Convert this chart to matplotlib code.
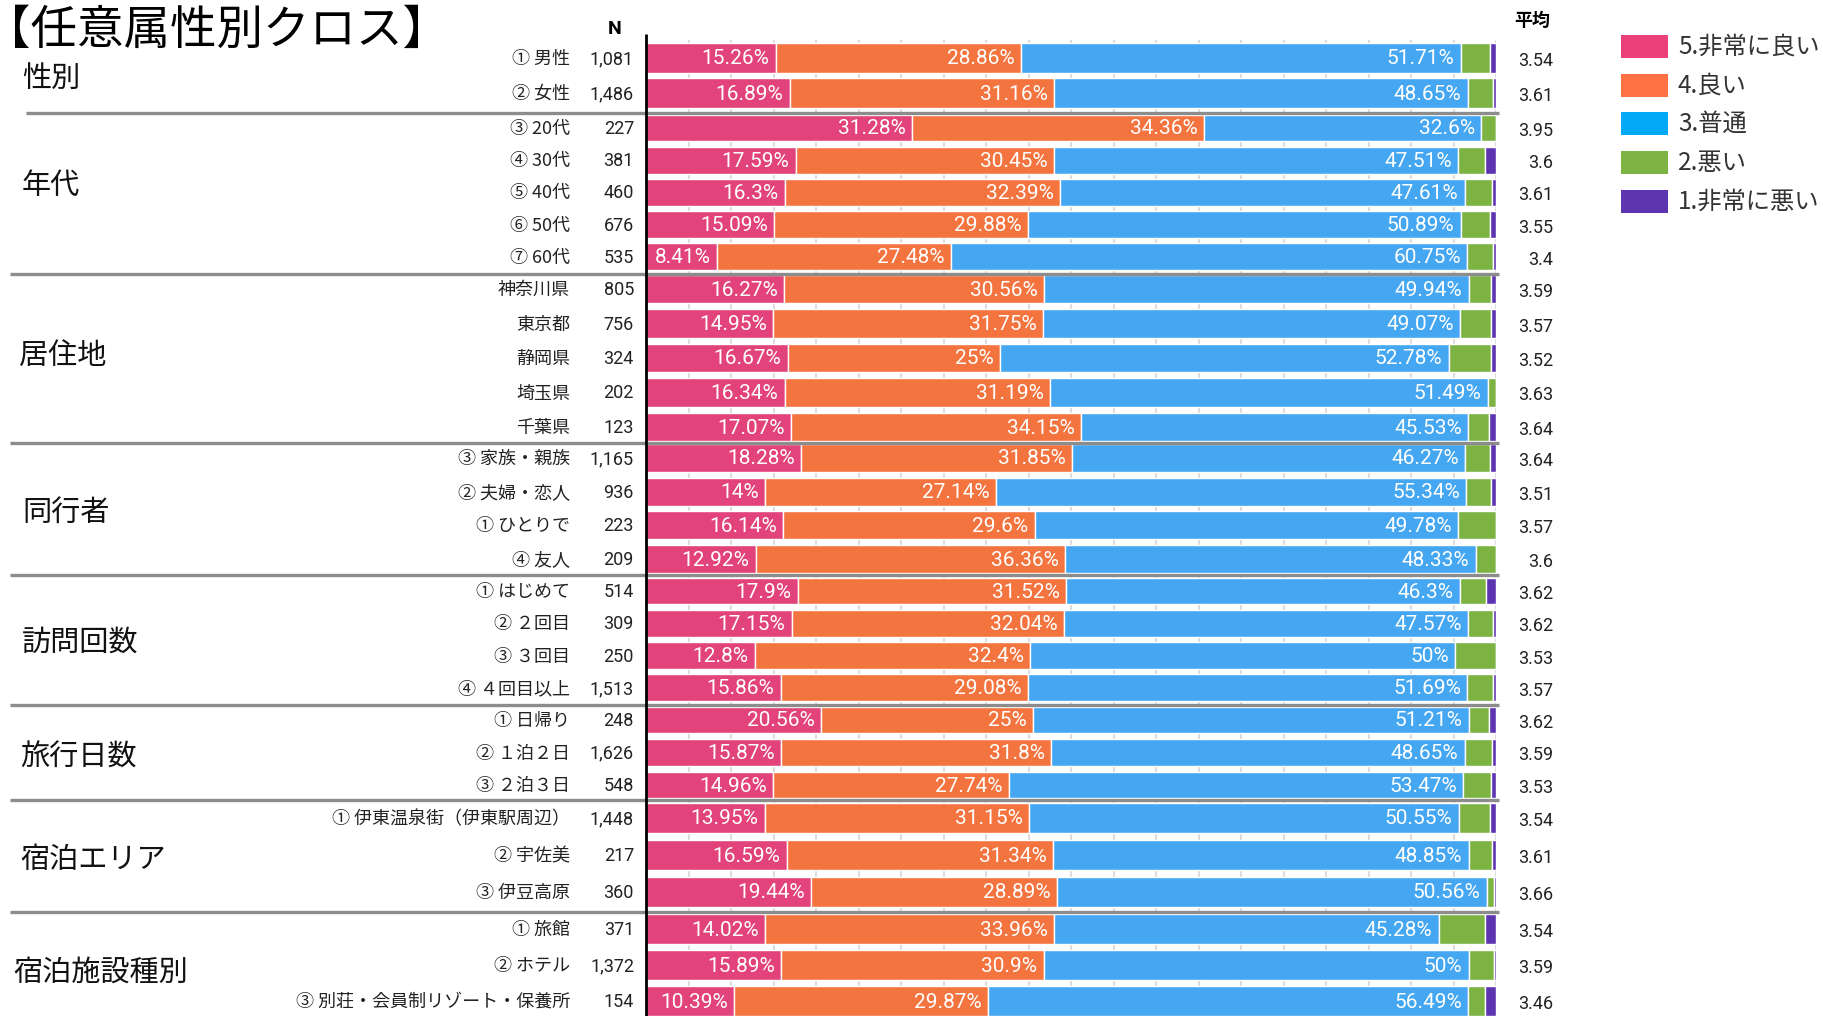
import matplotlib
matplotlib.use("Agg")
import matplotlib.pyplot as plt
from matplotlib.patches import Rectangle
import numpy as np

plt.rcParams['font.family'] = ['Noto Sans CJK JP', 'DejaVu Sans']

# ---------------- data ----------------
title = "【任意属性別クロス】"
groups = ["性別", "年代", "居住地", "同行者", "訪問回数", "旅行日数", "宿泊エリア", "宿泊施設種別"]
group_sizes = [2, 5, 5, 4, 4, 3, 3, 3]
categories = [
    "① 男性", "② 女性",
    "③ 20代", "④ 30代", "⑤ 40代", "⑥ 50代", "⑦ 60代",
    "神奈川県", "東京都", "静岡県", "埼玉県", "千葉県",
    "③ 家族・親族", "② 夫婦・恋人", "① ひとりで", "④ 友人",
    "① はじめて", "② ２回目", "③ ３回目", "④ ４回目以上",
    "① 日帰り", "② １泊２日", "③ ２泊３日",
    "① 伊東温泉街（伊東駅周辺）", "② 宇佐美", "③ 伊豆高原",
    "① 旅館", "② ホテル", "③ 別荘・会員制リゾート・保養所",
]
n_values = [1081, 1486, 227, 381, 460, 676, 535, 805, 756, 324, 202, 123,
            1165, 936, 223, 209, 514, 309, 250, 1513, 248, 1626, 548,
            1448, 217, 360, 371, 1372, 154]
very_good = [15.26, 16.89, 31.28, 17.59, 16.3, 15.09, 8.41, 16.27, 14.95, 16.67, 16.34, 17.07,
             18.28, 14, 16.14, 12.92, 17.9, 17.15, 12.8, 15.86, 20.56, 15.87, 14.96,
             13.95, 16.59, 19.44, 14.02, 15.89, 10.39]
good = [28.86, 31.16, 34.36, 30.45, 32.39, 29.88, 27.48, 30.56, 31.75, 25, 31.19, 34.15,
        31.85, 27.14, 29.6, 36.36, 31.52, 32.04, 32.4, 29.08, 25, 31.8, 27.74,
        31.15, 31.34, 28.89, 33.96, 30.9, 29.87]
normal = [51.71, 48.65, 32.6, 47.51, 47.61, 50.89, 60.75, 49.94, 49.07, 52.78, 51.49, 45.53,
          46.27, 55.34, 49.78, 48.33, 46.3, 47.57, 50, 51.69, 51.21, 48.65, 53.47,
          50.55, 48.85, 50.56, 45.28, 50, 56.49]
bad = [3.42, 2.96, 1.76, 3.15, 3.26, 3.40, 2.99, 2.61, 3.70, 4.94, 0.99, 2.44,
       2.92, 2.88, 4.48, 2.39, 3.11, 2.91, 4.8, 2.97, 2.42, 3.20, 3.28,
       3.66, 2.76, 0.83, 5.39, 2.92, 1.95]
very_bad = [0.74, 0.34, 0, 1.31, 0.43, 0.74, 0.37, 0.62, 0.53, 0.62, 0, 0.81,
            0.69, 0.64, 0, 0, 1.17, 0.32, 0, 0.40, 0.81, 0.49, 0.55,
            0.69, 0.46, 0.28, 1.35, 0.29, 1.30]
averages = [3.54, 3.61, 3.95, 3.6, 3.61, 3.55, 3.4, 3.59, 3.57, 3.52, 3.63, 3.64,
            3.64, 3.51, 3.57, 3.6, 3.62, 3.62, 3.53, 3.57, 3.62, 3.59, 3.53,
            3.54, 3.61, 3.66, 3.54, 3.59, 3.46]
series_names = ["5.非常に良い", "4.良い", "3.普通", "2.悪い", "1.非常に悪い"]

# ---------------- layout / style ----------------
W, H = 1823, 1016
bar_colors = ['#E2437B', '#F4743F', '#45A7F2', '#7CB342', '#5E35B1']
legend_colors = ['#EC407A', '#FF7043', '#03A9F4', '#7CB342', '#5E35B1']
group_first_y = [58, 128, 289, 458, 591, 720, 818, 929]   # pixel layout
group_pitch = [35, 32.2, 34.5, 33.7, 32.3, 32.5, 37, 36]
group_label_pos = [(22, 79), (22, 186), (19, 356), (22, 513), (22, 643), (20, 758), (20, 860), (13, 973)]
separators_y = [113, 274, 443, 575, 705, 800, 912]
bar_left_px, bar_right_px = 646, 1496

row_y, row_h = [], []
for gi, size in enumerate(group_sizes):
    for k in range(size):
        row_y.append(group_first_y[gi] + k * group_pitch[gi])
        row_h.append(group_pitch[gi] * 0.83)
row_y = np.array(row_y)
row_h = np.array(row_h)

fig = plt.figure(figsize=(W / 100, H / 100), dpi=100)
fig.patch.set_facecolor('white')

# bars axes (pixel y coordinates, percent x)
ax = fig.add_axes([bar_left_px / W, 0, (bar_right_px - bar_left_px) / W, 1])
ax.set_xlim(0, 100)
ax.set_ylim(H, 0)
ax.patch.set_visible(False)
for s in ax.spines.values():
    s.set_visible(False)
ax.set_xticks([])
ax.set_yticks([])
ax.vlines(np.arange(5, 101, 5), 40, H, colors='#dcdcdc', linewidth=1.5, zorder=0)

series = [very_good, good, normal, bad, very_bad]
left = np.zeros(len(categories))
for si, vals in enumerate(series):
    vals = np.array(vals, dtype=float)
    ax.barh(row_y, vals, height=row_h, left=left, color=bar_colors[si],
            edgecolor='white', linewidth=1.0, zorder=2)
    if si < 3:
        for y, l, v in zip(row_y, left, vals):
            ax.text(l + v - 0.75, y + 1, f"{v:g}%", ha='right', va='center',
                    color='white', fontsize=15, family=['Roboto', 'DejaVu Sans'], zorder=3)
    left += vals

# overlay canvas in pixel coordinates
cv = fig.add_axes([0, 0, 1, 1], zorder=5)
cv.set_xlim(0, W)
cv.set_ylim(H, 0)
cv.axis('off')
cv.patch.set_visible(False)

cv.text(-16, 31, title, fontsize=33.5, ha='left', va='center', color='black')
cv.text(615, 29, "N", fontsize=14, fontweight='bold', ha='center', va='center',
        family=['Roboto', 'DejaVu Sans'])
cv.text(1532, 20, "平均", fontsize=13, fontweight='bold', ha='center', va='center')

for (gx, gy), g in zip(group_label_pos, groups):
    cv.text(gx, gy, g, fontsize=21, ha='left', va='center', color='#111111')

for y, c, n, a in zip(row_y, categories, n_values, averages):
    cv.text(570, y + 1, c, fontsize=13, ha='right', va='center', color='#222222')
    cv.text(634, y + 1, f"{n:,}", fontsize=13, ha='right', va='center', color='#222222',
            family=['Roboto', 'DejaVu Sans'])
    cv.text(1553, y + 3, f"{a:g}", fontsize=13, ha='right', va='center', color='#222222',
            family=['Roboto', 'DejaVu Sans'])

for i, sy in enumerate(separators_y):
    x0 = 26 if i == 0 else 10
    cv.plot([x0, 1499], [sy, sy], color='#8c8c8c', linewidth=2.4, solid_capstyle='butt')

cv.plot([bar_left_px, bar_left_px], [34, H], color='black', linewidth=2.0, solid_capstyle='butt')

# legend
for i, (name, col) in enumerate(zip(series_names, legend_colors)):
    cy = 46.5 + i * 38.7
    cv.add_patch(Rectangle((1621, cy - 11.5), 47, 23, facecolor=col, edgecolor='none'))
    cv.text(1678, cy, name, fontsize=17.5, ha='left', va='center', color='#333333')

fig.savefig("out.png", dpi=100)
